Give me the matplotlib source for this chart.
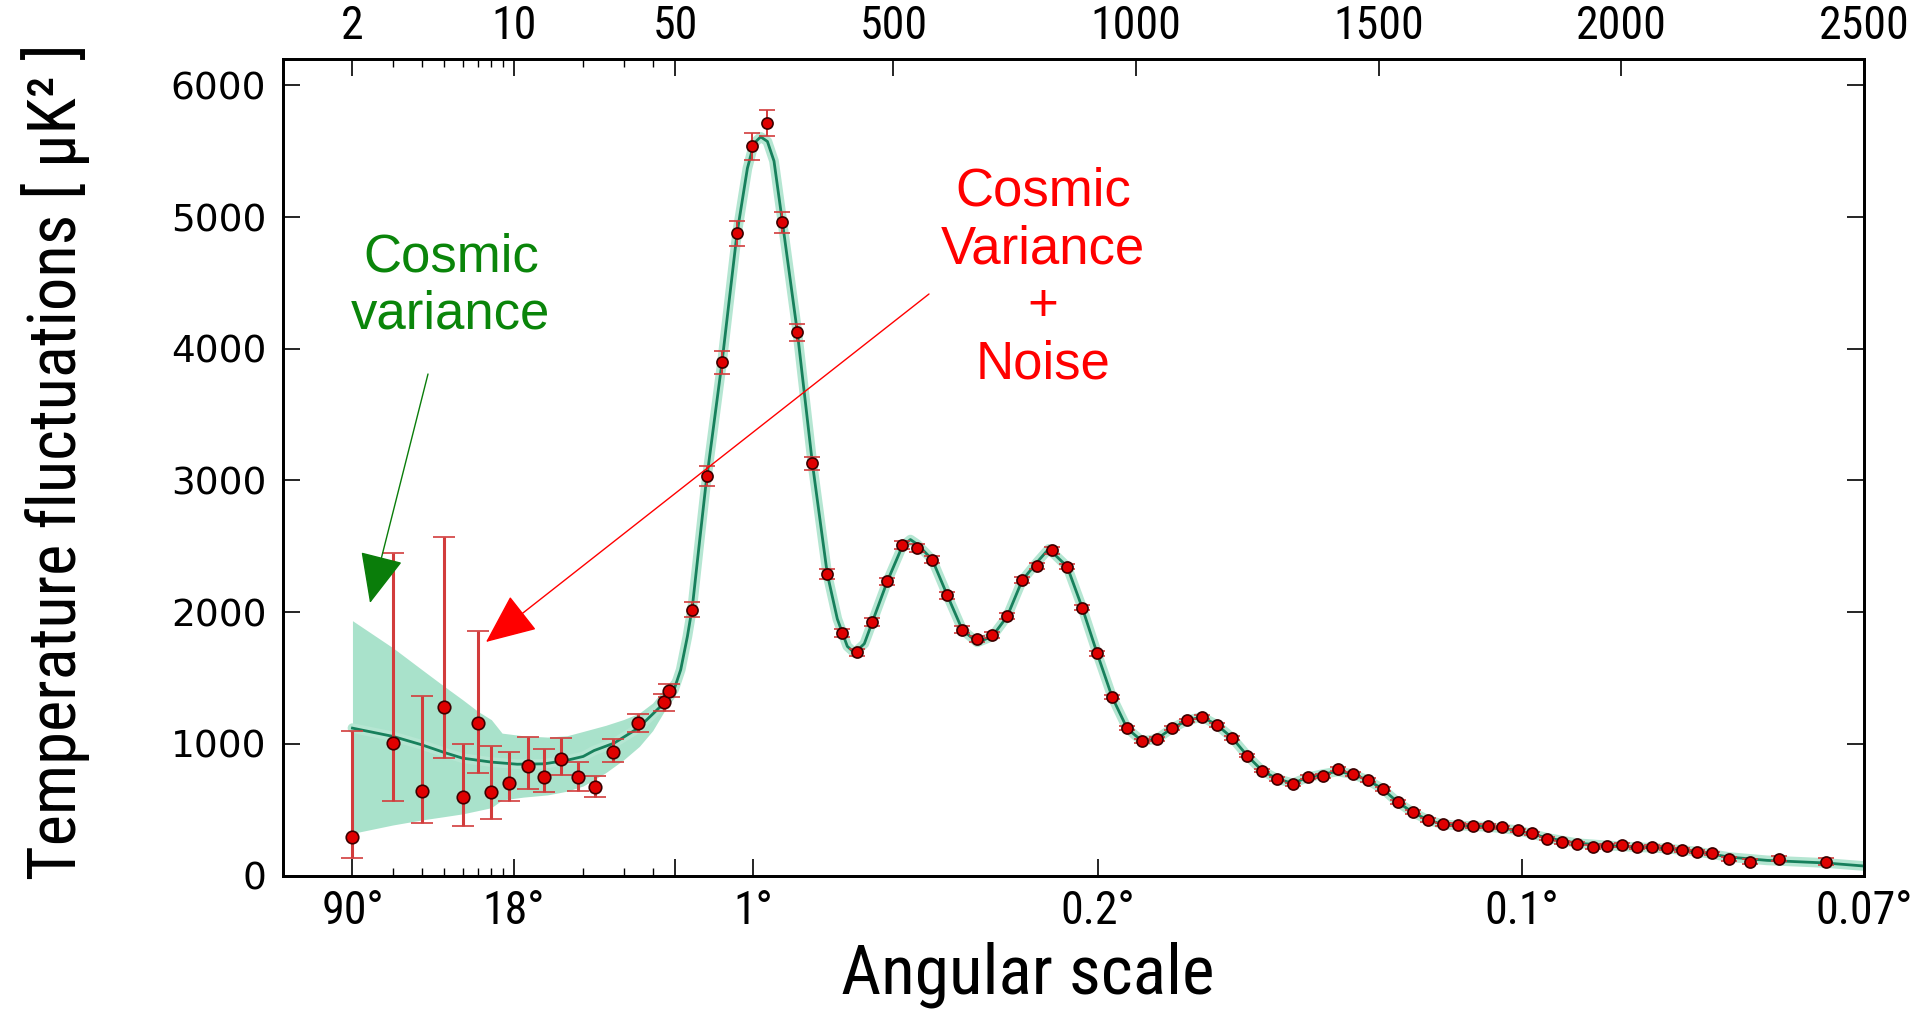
import numpy as np
import matplotlib
matplotlib.use('Agg')
import matplotlib.pyplot as plt

# ---------------- data ----------------
# low-l points: multipole, value, lower and upper end of the error bar
low_l = [2, 3, 4, 5, 6, 7, 8, 9.55, 11.5, 13.55, 16.05, 18.9, 22.5, 27.05, 34.5, 44.6, 47]
low_val = [295, 1005, 643, 1281, 595, 1157, 637, 706, 828, 751, 888, 749, 671, 941, 1160, 1317, 1403]
low_lo = [135, 567, 399, 896, 376, 777, 430, 564, 660, 633, 764, 645, 595, 861, 1091, 1246, 1355]
low_hi = [1094, 2452, 1360, 2570, 998, 1859, 980, 934, 1053, 960, 1046, 865, 759, 1036, 1223, 1380, 1454]

# binned points above l = 50
high_l = [85.8, 115.9, 146.8, 177.7, 208.6, 239.5, 271.2, 302.1, 333, 363.8,
          393.3, 424.2, 456.5, 487.4, 518.3, 549.2, 580, 611, 641.8, 672.7,
          703.6, 734.5, 765.4, 796.3, 827.2, 858, 889, 919.8, 950.7, 981.6,
          1012.5, 1043.4, 1074.3, 1105.2, 1136, 1167, 1197.9, 1228.8, 1259.6, 1290.5,
          1322.7, 1353.6, 1384.5, 1415.3, 1446.2, 1477.1, 1508, 1538.9, 1569.8, 1600.7,
          1631.6, 1662.5, 1693.3, 1724.2, 1755, 1786.8, 1816.9, 1847.8, 1878.7, 1909.6,
          1941.3, 1971.3, 2002.2, 2033.1, 2064, 2095, 2125.9, 2156.7, 2187.6, 2222,
          2265.2, 2325, 2421]
high_val = [2019, 3035, 3898, 4876, 5536, 5713, 4960, 4124, 3130, 2288,
            1840, 1694, 1925, 2234, 2511, 2490, 2399, 2128, 1867, 1796,
            1829, 1968, 2242, 2348, 2468, 2346, 2034, 1687, 1355, 1117,
            1020, 1038, 1119, 1177, 1205, 1142, 1046, 911, 797, 734,
            691, 749, 754, 810, 772, 724, 658, 557, 481, 422,
            389, 386, 376, 376, 366, 344, 321, 278, 252, 240,
            217, 227, 232, 214, 219, 209, 194, 181, 169, 128,
            105, 128, 105]
high_err = [57, 75, 88, 96, 100, 96, 82, 64, 48, 37,
            32, 28, 28, 28, 30, 30, 28, 26, 24, 22,
            22, 22, 24, 24, 24, 22, 20, 18, 16, 15,
            15, 15, 15, 15, 15, 15, 14, 14, 14, 14,
            14, 14, 14, 14, 14, 14, 13, 13, 13, 13,
            12, 12, 12, 12, 12, 12, 12, 12, 12, 12,
            12, 12, 12, 12, 12, 12, 12, 12, 13, 15,
            18, 20, 25]

# best fit model line
model_l = [2, 3, 4, 5, 6, 8, 10.35, 13.55, 17, 20, 22.3, 27.2, 34.6, 43.3, 49.5,
           61.7, 75.5, 85.8, 99.4, 113.2, 146.8, 177.7, 199.1, 212.7, 226.5, 240.3,
           253.9, 271.2, 302.1, 333, 363.8, 384.4, 405, 420, 440, 456.5, 487.4,
           518.3, 535, 549.2, 580, 611, 641.8, 672.7, 703.6, 734.5, 765.4, 796.3,
           820, 858, 889, 919.8, 950.7, 981.6, 1012.5, 1043.4, 1074.3, 1105.2, 1136,
           1167, 1197.9, 1228.8, 1259.6, 1290.5, 1322.7, 1353.6, 1384.5, 1415.3,
           1446.2, 1477.1, 1508, 1538.9, 1569.8, 1600.7, 1631.6, 1662.5, 1724,
           1786.8, 1847.8, 1909.6, 1971.3, 2033, 2095, 2157, 2222, 2300, 2421, 2500]
model_val = [1119, 1056, 992, 934, 891, 861, 845, 848, 875, 904, 949, 1005, 1119, 1284, 1411,
             1563, 1816, 2044, 2500, 2957, 3898, 4876, 5370, 5560, 5609, 5574,
             5425, 4963, 4124, 3130, 2288, 1948, 1740, 1690, 1760, 1925, 2234,
             2500, 2551, 2515, 2399, 2128, 1867, 1770, 1815, 1968, 2242, 2380,
             2480, 2346, 2034, 1687, 1355, 1117, 1020, 1038, 1119, 1177, 1205,
             1142, 1046, 911, 797, 734, 700, 745, 770, 790,
             770, 724, 658, 557, 481, 422, 389, 380, 370,
             344, 285, 245, 228, 215, 205, 181, 140, 115, 95, 72]

# cosmic variance band at low l
band_l = [2, 3, 4, 5, 6, 7, 8, 8.9, 11, 14, 17, 20, 25, 30, 35, 40, 45, 50]
band_lo = [320, 384, 422, 447, 468, 493, 515, 574, 595, 612, 640, 680, 780, 880, 980, 1100, 1250, 1360]
band_hi = [1935, 1728, 1563, 1436, 1335, 1246, 1183, 1081, 1061, 1051, 1061, 1094, 1140, 1185, 1233, 1310, 1420, 1520]

top_ticks = [2, 10, 50, 500, 1000, 1500, 2000, 2500]
top_minor = [3, 4, 5, 6, 7, 8, 9, 20, 30, 40]
angle_ticks = [2, 10, 50, 211, 921, 1795, 2500]
angle_labels = ['90°', '18°', '', '1°', '0.2°', '0.1°', '0.07°']
y_ticks = [0, 1000, 2000, 3000, 4000, 5000, 6000]

# ---------------- x scale: log below l=50, linear above ----------------
D = 475.5  # linear units per decade in the log part


def fwd(l):
    l = np.asarray(l, dtype=float)
    return np.where(l < 50, 50 + D * np.log10(np.clip(l, 1e-6, 50) / 50), l)


def inv(u):
    u = np.asarray(u, dtype=float)
    return np.where(u < 50, 50 * 10 ** ((np.minimum(u, 50) - 50) / D), u)


narrow = ['Roboto Condensed', 'Liberation Sans Narrow', 'DejaVu Sans']
W, H = 1924, 1010

fig = plt.figure(figsize=(W / 100, H / 100), dpi=100)
ax = fig.add_axes([283 / W, 1 - 875.5 / H, (1864 - 283) / W, (875.5 - 59) / H])
ax.set_xscale('function', functions=(fwd, inv))
ax.set_xlim(1, 2500)
ax.set_ylim(0, 6200)

# band + model
ax.fill_between(band_l, band_lo, band_hi, color='#a9e2cb', lw=0, zorder=1)
ax.plot(model_l, model_val, color='#b5e6d2', lw=7, solid_capstyle='round', zorder=2)
ax.plot(model_l, model_val, color='#17805c', lw=2, zorder=3)

# data points
ax.errorbar(low_l, low_val, yerr=[np.subtract(low_val, low_lo), np.subtract(low_hi, low_val)],
            fmt='o', ms=9, mfc='#e00000', mec='#3a0000', mew=1.2,
            ecolor='#d23c3c', elinewidth=2.2, capsize=8, capthick=1.6, zorder=4)
ax.errorbar(high_l, high_val, yerr=high_err,
            fmt='o', ms=8, mfc='#e00000', mec='#3a0000', mew=1.2,
            ecolor='#d23c3c', elinewidth=1.4, capsize=6, capthick=1.4, zorder=4)

# bottom axis: angular scale
ax.set_xticks(angle_ticks)
ax.set_xticklabels(angle_labels, family=narrow, fontstretch='condensed', fontsize=33)
ax.set_xticks(top_minor, minor=True)
ax.set_yticks(y_ticks)
ax.set_yticklabels([str(v) for v in y_ticks], fontsize=27, family='DejaVu Sans')
ax.tick_params(axis='x', which='major', direction='in', length=12, width=1.2, pad=10)
ax.tick_params(axis='x', which='minor', direction='in', length=6, width=1.0)
ax.tick_params(axis='y', which='major', direction='in', length=12, width=1.2, pad=12,
               right=True)
for s in ax.spines.values():
    s.set_linewidth(2)

# top axis: multipole
top = ax.twiny()
top.set_xscale('function', functions=(fwd, inv))
top.set_xlim(1, 2500)
top.set_xticks(top_ticks)
top.set_xticklabels([str(t) for t in top_ticks], family=narrow, fontstretch='condensed',
                    fontsize=33)
top.set_xticks(top_minor, minor=True)
top.tick_params(axis='x', which='major', direction='in', length=12, width=1.2, pad=8)
top.tick_params(axis='x', which='minor', direction='in', length=6, width=1.0)
for s in top.spines.values():
    s.set_linewidth(2)

ax.set_xlabel('Angular scale', family=narrow, fontstretch='condensed', fontsize=50,
              labelpad=6)
ax.xaxis.label.set_x(0.471)
fig.text(56 / W, 1 - 462 / H, 'Temperature fluctuations [ µK² ]', rotation=90,
         ha='center', va='center', family=narrow, fontstretch='condensed', fontsize=48)

# annotations
fig.text(451 / W, 1 - 286 / H, 'Cosmic\nvariance', color='#0a850a', ha='center', va='center',
         family='Liberation Sans', fontsize=38, linespacing=1.2)
fig.text(1043 / W, 1 - 278 / H, 'Cosmic\nVariance\n+\nNoise', color='#ff0000', ha='center',
         va='center', family='Liberation Sans', fontsize=38, linespacing=1.2)
top.annotate('', xy=(370 / W, 1 - 603 / H), xytext=(428 / W, 1 - 374 / H),
             xycoords='figure fraction', textcoords='figure fraction',
             arrowprops=dict(arrowstyle='-|>,head_length=0.8,head_width=0.35',
                             mutation_scale=40, color='#0a7d0a', lw=1.0,
                             shrinkA=0, shrinkB=0), zorder=6)
top.annotate('', xy=(486 / W, 1 - 642 / H), xytext=(929 / W, 1 - 294 / H),
             xycoords='figure fraction', textcoords='figure fraction',
             arrowprops=dict(arrowstyle='-|>,head_length=0.8,head_width=0.35',
                             mutation_scale=40, color='#ff0000', lw=1.0,
                             shrinkA=0, shrinkB=0), zorder=6)

fig.savefig('out.png', dpi=100)
